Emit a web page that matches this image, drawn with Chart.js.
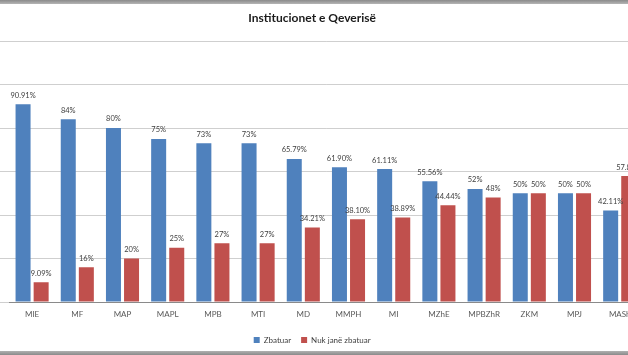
<!DOCTYPE html>
<html>
<head>
<meta charset="utf-8">
<script src="https://cdn.jsdelivr.net/npm/chart.js@4.4.0/dist/chart.umd.min.js"></script>
<style>
  html, body { margin: 0; padding: 0; background: #fff; }
  #wrap { position: relative; width: 628px; height: 355px; overflow: hidden; background: #fff; }
  #cv { position: absolute; left: -18px; top: 0; }
  .band { position: absolute; left: 0; width: 628px; }
</style>
</head>
<body>
<div id="wrap">
  <canvas id="cv" width="680" height="355" style="width:680px;height:355px"></canvas>
  <div class="band" style="top:0;height:4px;background:linear-gradient(#8a8a8a,#b5b5b5);"></div>
  <div class="band" style="top:351px;height:4px;background:linear-gradient(#b0b0b0,#8a8a8a);"></div>
</div>
<script>
const titleText = "Institucionet e Qeverisë";
const categories = ["MIE","MF","MAP","MAPL","MPB","MTI","MD","MMPH","MI","MZhE","MPBZhR","ZKM","MPJ","MASh"];
const seriesNames = ["Zbatuar","Nuk janë zbatuar"];
const zbatuar = [90.91, 84, 80, 75, 73, 73, 65.79, 61.90, 61.11, 55.56, 52, 50, 50, 42.11];
const nukZbatuar = [9.09, 16, 20, 25, 27, 27, 34.21, 38.10, 38.89, 44.44, 48, 50, 50, 57.89];
const yTicks = [0, 20, 40, 60, 80, 100, 120];

function fmt(v) {
  return (Number.isInteger(v) ? String(v) : v.toFixed(2)) + "%";
}

const labelPlugin = {
  id: "barLabels",
  afterDatasetsDraw(chart) {
    const ctx = chart.ctx;
    ctx.save();
    ctx.font = "7.5px Lato, 'Liberation Sans', sans-serif";
    ctx.fillStyle = "#404040";
    ctx.textAlign = "center";
    ctx.textBaseline = "middle";
    chart.data.datasets.forEach((ds, i) => {
      const meta = chart.getDatasetMeta(i);
      meta.data.forEach((el, j) => {
        ctx.fillText(fmt(ds.data[j]), el.x, el.y - 9);
      });
    });
    ctx.restore();
  }
};

new Chart(document.getElementById("cv"), {
  type: "bar",
  data: {
    labels: categories,
    datasets: [
      { label: seriesNames[0], data: zbatuar, backgroundColor: "#4F81BD", categoryPercentage: 0.8, barPercentage: 0.83 },
      { label: seriesNames[1], data: nukZbatuar, backgroundColor: "#C0504D", categoryPercentage: 0.8, barPercentage: 0.83 }
    ]
  },
  options: {
    responsive: false,
    animation: false,
    devicePixelRatio: 1,
    layout: { padding: { left: 0, right: 19.7, top: 0, bottom: 1 } },
    plugins: {
      title: {
        display: true,
        text: titleText,
        color: "#1a1a1a",
        font: { family: "Lato, 'Liberation Sans', sans-serif", size: 12, weight: "bold" },
        padding: { top: 11, bottom: 15.6 }
      },
      legend: {
        position: "bottom",
        labels: {
          boxWidth: 6, boxHeight: 6, padding: 10,
          color: "#404040",
          font: { family: "Lato, 'Liberation Sans', sans-serif", size: 8 }
        }
      },
      tooltip: { enabled: false }
    },
    scales: {
      x: {
        grid: { display: false, drawTicks: false },
        border: { display: true, color: "#8a8a8a", width: 1 },
        ticks: { padding: 8, color: "#595959", maxRotation: 0, autoSkip: false,
                 font: { family: "Lato, 'Liberation Sans', sans-serif", size: 8 } },
        afterFit(s) { s.height = 24; }
      },
      y: {
        min: 0, max: 120,
        afterBuildTicks(s) { s.ticks = yTicks.map(v => ({ value: v })); },
        grid: { color: "#cfcfcf", drawTicks: true, tickLength: 12, tickColor: "#cfcfcf", lineWidth: 1 },
        border: { display: false },
        ticks: { display: false },
        afterFit(s) { s.width = 27.5; }
      }
    }
  },
  plugins: [labelPlugin]
});
</script>
</body>
</html>
